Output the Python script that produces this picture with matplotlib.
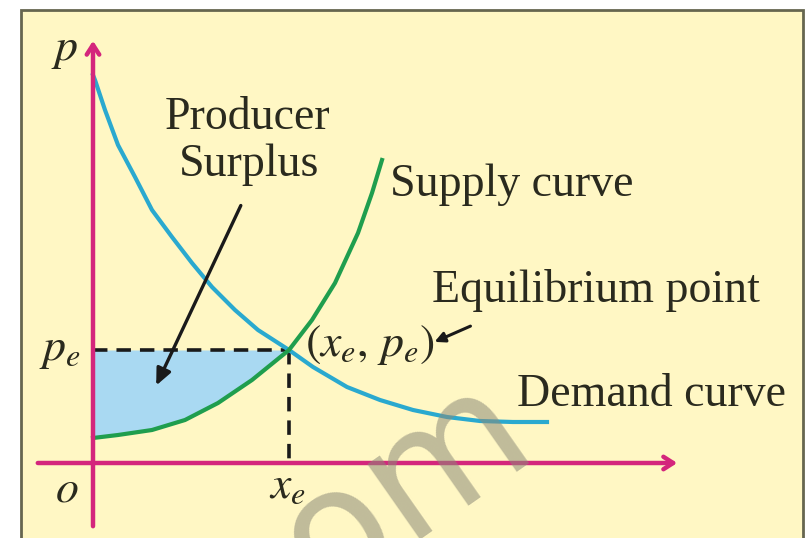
import matplotlib
matplotlib.use("Agg")
import matplotlib.pyplot as plt
from matplotlib.patches import Rectangle

# --- data (quantity x, price p), origin at o ---
demand_x = [0, 2, 12, 25, 42, 59, 79, 99, 119, 142, 165, 196, 220, 254, 287, 320, 354, 387, 420, 454]
demand_p = [388, 383, 353, 318, 286, 253, 226, 200, 176, 153, 133, 113, 96, 76, 63, 53, 46, 42, 41, 41]
supply_x = [0, 25, 59, 92, 125, 159, 196, 219, 242, 265, 279, 289]
supply_p = [25, 28, 33, 43, 60, 83, 113, 143, 180, 230, 270, 303]
x_e, p_e = 196, 113

YELLOW = '#fff7c4'
MAGENTA = '#d4267c'
CYAN = '#2aa9cf'
GREEN = '#1f9e4e'
SHADE = '#a9d9f2'
SERIF = 'Liberation Serif'
FS = 33

plt.rcParams['mathtext.fontset'] = 'stix'

fig = plt.figure(figsize=(8.07, 5.38), dpi=100, facecolor='white')
ax = fig.add_axes([0, 0, 1, 1])
ax.set_xlim(-93, 714)
ax.set_ylim(-75, 463)
ax.axis('off')

# frame + background
ax.add_patch(Rectangle((-72, -90), 782, 543, facecolor=YELLOW,
                       edgecolor='#66664f', lw=2, zorder=0))

# shaded producer surplus
sx = [x for x in supply_x if x <= x_e]
sp = supply_p[:len(sx)]
ax.fill_between(sx, sp, p_e, color=SHADE, zorder=1, lw=0)

# dashed guides
ax.plot([0, x_e], [p_e, p_e], color='#1a1a1a', lw=2.6, ls=(0, (4, 2.5)), zorder=2)
ax.plot([x_e, x_e], [p_e, 0], color='#1a1a1a', lw=2.6, ls=(0, (4, 2.5)), zorder=2)

# curves
ax.plot(demand_x, demand_p, color=CYAN, lw=3, zorder=3, solid_joinstyle='round')
ax.plot(supply_x, supply_p, color=GREEN, lw=3, zorder=3, solid_joinstyle='round')

# axes with open arrowheads
ax.annotate('', xy=(587, 0), xytext=(-58, 0),
            arrowprops=dict(arrowstyle='->,head_length=0.7,head_width=0.45',
                            color=MAGENTA, lw=3.2), zorder=4)
ax.annotate('', xy=(0, 425), xytext=(0, -66),
            arrowprops=dict(arrowstyle='->,head_length=0.7,head_width=0.45',
                            color=MAGENTA, lw=3.2), zorder=4)

# pointer arrows
ax.annotate('', xy=(62, 75), xytext=(149, 260),
            arrowprops=dict(arrowstyle='-|>,head_length=1.0,head_width=0.45',
                            color='#1a1a1a', lw=2.4), zorder=5)
ax.annotate('', xy=(339, 120), xytext=(380, 138),
            arrowprops=dict(arrowstyle='-|>,head_length=0.6,head_width=0.3',
                            color='#1a1a1a', lw=2.2), zorder=5)

txt = dict(family=SERIF, fontsize=FS, color='#2a2a1e', zorder=6)
ax.text(154, 345, 'Producer', ha='center', va='center', **txt)
ax.text(156, 298, 'Surplus', ha='center', va='center', **txt)
ax.text(297, 278, 'Supply curve', ha='left', va='center', **txt)
ax.text(339, 173, 'Equilibrium point', ha='left', va='center', **txt)
ax.text(424, 68, 'Demand curve', ha='left', va='center', **txt)
ax.text(212, 118, r'$(x_e,\,p_e)$', ha='left', va='center', **txt)
ax.text(-28, 413, r'$p$', ha='center', va='center', **txt)
ax.text(-33, 113, r'$p_e$', ha='center', va='center', **txt)
ax.text(-26, -27, r'$o$', ha='center', va='center', **txt)
ax.text(194, -24, r'$x_e$', ha='center', va='center', **txt)

# watermark
ax.text(275, -50, 'com', family='DejaVu Sans', fontsize=120, rotation=35,
        color='#8c8a78', alpha=0.55, ha='center', va='center', zorder=7)

fig.savefig('out.png', dpi=100, facecolor='white')
